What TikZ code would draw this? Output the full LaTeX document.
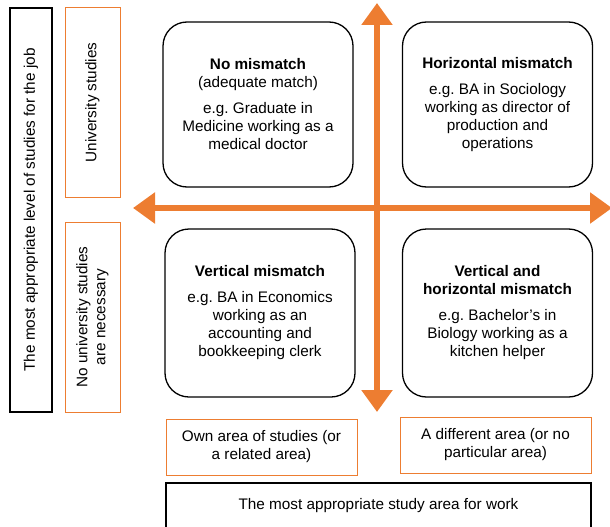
\documentclass[tikz,border=0pt]{standalone}
\usepackage{fontspec}
\setmainfont{Liberation Sans}
\usetikzlibrary{arrows.meta}
\definecolor{axisorange}{RGB}{237,125,49}
\frenchspacing

\begin{document}
\begin{tikzpicture}[x=1pt,y=-1pt,
  every node/.style={font=\fontsize{15.3}{18}\selectfont, align=center},
  quad/.style={draw, line width=1.3pt, rounded corners=24pt, minimum width=190pt, minimum height=166pt, inner sep=0pt},
  levelbox/.style={draw=axisorange, line width=1pt, inner sep=0pt},
  titlebox/.style={draw, line width=1.3pt, inner sep=0pt},
  axis/.style={axisorange, line width=6pt, {Triangle[width=30pt,length=22pt]}-{Triangle[width=30pt,length=22pt]}}
]
\useasboundingbox (0,0) rectangle (610,527);

%axes
\coordinate (west) at (133,208);
\coordinate (east) at (612,208);
\coordinate (north) at (377,3);
\coordinate (south) at (377,412);
\draw[axis] (west) -- (east);
\draw[axis] (north) -- (south);

%level of studies
\node[titlebox, rotate=90, minimum width=404pt, minimum height=42pt] (level) at (31,210)
  {The most appropriate level of studies for the job};
\node[levelbox, rotate=90, minimum width=189pt, minimum height=55pt] (univ) at (92.5,102.5)
  {University studies};
\node[levelbox, rotate=90, minimum width=190pt, minimum height=55pt] (nouniv) at (92.5,317)
  {No university studies\\are necessary};

%quadrants
\node[quad, minimum height=165pt] (nomis) at (258,104.5)
  {\textbf{No mismatch}\\(adequate match)\\[8pt]e.g. Graduate in\\Medicine working as a\\medical doctor};
\node[quad, minimum height=165pt] (hormis) at (497.5,104.5)
  {\textbf{Horizontal mismatch}\\[8pt]e.g. BA in Sociology\\working as director of\\production and\\operations};
\node[quad, minimum height=168pt] (vermis) at (260,313)
  {\textbf{Vertical mismatch}\\[8pt]e.g. BA in Economics\\working as an\\accounting and\\bookkeeping clerk};
\node[quad, minimum height=168pt] (bothmis) at (497.5,313)
  {\textbf{Vertical and}\\\textbf{horizontal mismatch}\\[8pt]e.g. Bachelor’s in\\Biology working as a\\kitchen helper};

%study area
\node[levelbox, minimum width=191pt, minimum height=56pt] (ownarea) at (261.5,447)
  {Own area of studies (or\\a related area)};
\node[levelbox, minimum width=191pt, minimum height=56pt] (otherarea) at (495.5,445)
  {A different area (or no\\particular area)};
\node[titlebox, minimum width=425pt, minimum height=45pt] (area) at (378.5,505.5)
  {The most appropriate study area for work};

\end{tikzpicture}
\end{document}
